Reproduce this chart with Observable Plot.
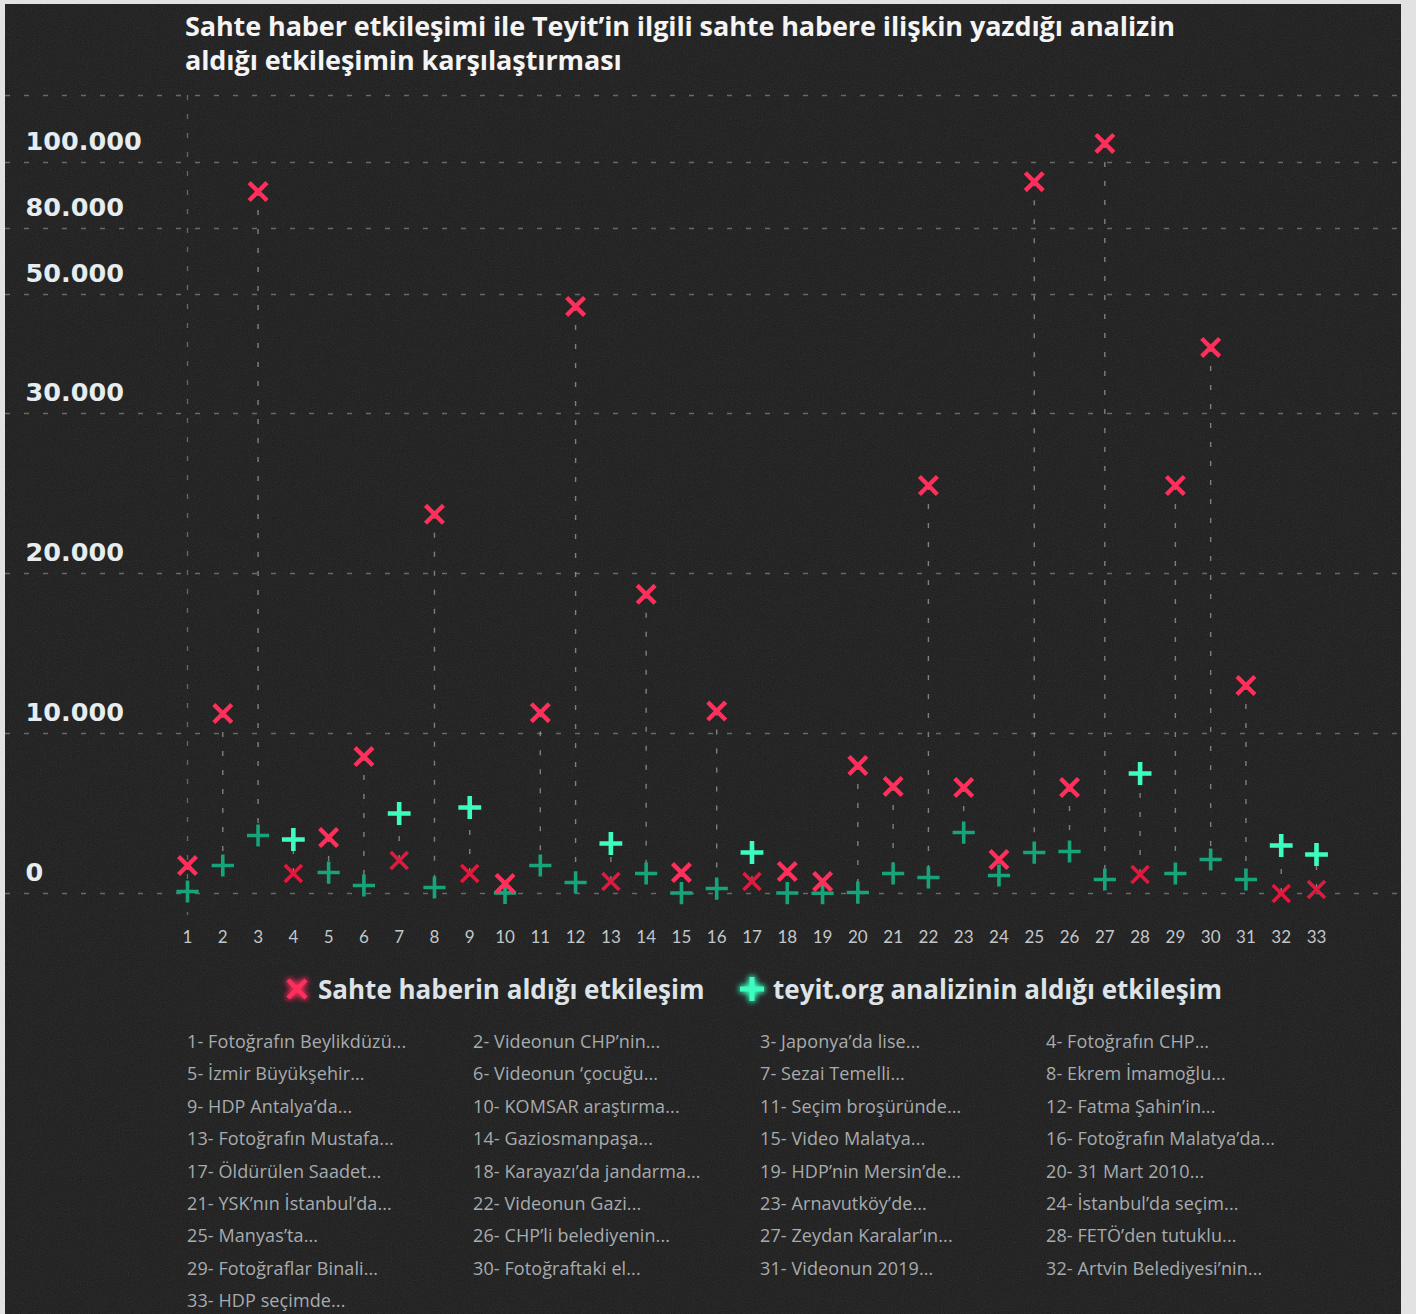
<!DOCTYPE html>
<html><head><meta charset="utf-8">
<script src="https://cdn.jsdelivr.net/npm/d3@7"></script>
<script src="https://cdn.jsdelivr.net/npm/@observablehq/plot@0.6"></script>
<style>
html,body{margin:0;padding:0;}
body{width:1416px;height:1314px;background:#e2e2e2;position:relative;overflow:hidden;font-family:"Open Sans",Lato,sans-serif;}
#card{position:absolute;left:5px;top:4px;width:1396px;height:1310px;background:#1c1c1c;}
#noise{position:absolute;left:5px;top:4px;width:1396px;height:1310px;opacity:0.12;}
#title{position:absolute;left:185px;top:9px;color:#f4f4f4;font-weight:700;font-size:27px;line-height:34px;letter-spacing:-0.1px;}
#chart{position:absolute;left:0;top:80px;}
.leg{position:absolute;top:972px;height:34px;display:flex;align-items:center;color:#dde3e6;font-weight:700;font-size:26px;}
.leg svg{overflow:visible;}
.item{position:absolute;color:#a7abae;font-size:18px;line-height:22px;white-space:nowrap;letter-spacing:0.1px;}
</style>
</head><body>
<div id="card"></div>
<svg id="noise" width="1396" height="1310"><filter id="nz"><feTurbulence type="fractalNoise" baseFrequency="0.9" numOctaves="2" stitchTiles="stitch"/><feColorMatrix type="saturate" values="0"/></filter><rect width="100%" height="100%" filter="url(#nz)"/></svg>
<div id="title">Sahte haber etkileşimi ile Teyit’in ilgili sahte habere ilişkin yazdığı analizin<br>aldığı etkileşimin karşılaştırması</div>
<div id="chart"></div>
<div class="leg" style="left:286px"><svg width="22" height="22" style="margin-right:10px"><path d="M2,2L20,20M20,2L2,20" stroke="#ff2f5c" stroke-width="4.5" filter="url(#glowR)"/></svg><span>Sahte haberin aldığı etkileşim</span></div>
<div class="leg" style="left:738px"><svg width="28" height="28" style="margin-right:7px"><path d="M2,14L26,14M14,2L14,26" stroke="#3dfcc0" stroke-width="5" filter="url(#glowG)"/></svg><span>teyit.org analizinin aldığı etkileşim</span></div>
<div id="list"></div>
<script>
// ---- data ----
const ids = [1,2,3,4,5,6,7,8,9,10,11,12,13,14,15,16,17,18,19,20,21,22,23,24,25,26,27,28,29,30,31,32,33];
const sahte = [1750,11250,91200,1250,3500,8560,2060,23700,1250,625,11300,48000,750,18700,1310,11400,750,1375,750,8000,6690,25500,6625,2125,94200,6625,105700,1190,25500,41100,13000,0,250];
const teyit = [125,1750,3625,3375,1310,500,5000,375,5375,40,1750,690,3125,1250,30,310,2560,30,20,60,1250,1000,3810,1125,2560,2625,875,7500,1250,2125,875,3000,2440];
const yTicks = [0,10000,20000,30000,50000,80000,100000];
const yGrid = [0,10000,20000,30000,50000,80000,100000,120000];
const titles = ["Fotoğrafın Beylikdüzü...","Videonun CHP’nin...","Japonya’da lise...","Fotoğrafın CHP...","İzmir Büyükşehir...","Videonun ‘çocuğu...","Sezai Temelli...","Ekrem İmamoğlu...","HDP Antalya’da...","KOMSAR araştırma...","Seçim broşüründe...","Fatma Şahin’in...","Fotoğrafın Mustafa...","Gaziosmanpaşa...","Video Malatya...","Fotoğrafın Malatya’da...","Öldürülen Saadet...","Karayazı’da jandarma...","HDP’nin Mersin’de...","31 Mart 2010...","YSK’nın İstanbul’da...","Videonun Gazi...","Arnavutköy’de...","İstanbul’da seçim...","Manyas’ta...","CHP’li belediyenin...","Zeydan Karalar’ın...","FETÖ’den tutuklu...","Fotoğraflar Binali...","Fotoğraftaki el...","Videonun 2019...","Artvin Belediyesi’nin...","HDP seçimde..."];

// ---- build table ----
const pairs = ids.map((id,i)=>({id, sahte:sahte[i], teyit:teyit[i]}));
const pts = [];
pairs.forEach(p=>{
  pts.push({id:p.id, series:"sahte", value:p.sahte, bright:p.sahte>=p.teyit});
  pts.push({id:p.id, series:"teyit", value:p.teyit, bright:p.teyit>p.sahte});
});
const fmt = d3.formatLocale({decimal:",",thousands:".",grouping:[3],currency:["","₺"]}).format(",");

// layout (pixels within the svg)
const yPos = [813,653,493,333,214,148,82,15];

const chart = Plot.plot({
  width:1416, height:880,
  marginTop:15, marginBottom:45, marginLeft:5, marginRight:16,
  style:{background:"transparent", overflow:"visible"},
  x:{type:"linear", domain:[1,33], range:[187,1316], axis:null},
  y:{type:"linear", domain:yGrid, range:yPos, axis:null},
  marks:[
    Plot.ruleY(yGrid, {stroke:"#a0a0a0", strokeOpacity:0.55, strokeWidth:1.3, strokeDasharray:"5,14"}),
    Plot.ruleX([1], {stroke:"#a0a0a0", strokeOpacity:0.55, strokeWidth:1.3, strokeDasharray:"5,14"}),
    Plot.ruleX(pairs, {x:"id", y1:"sahte", y2:"teyit", stroke:"#b0b0b0", strokeOpacity:0.65, strokeWidth:1.4, strokeDasharray:"5,14"}),
    Plot.text(yTicks, {y:d=>d, text:d=>fmt(d), frameAnchor:"left", textAnchor:"start", dx:20, dy:-21, fill:"#e6edf0", fontSize:25.5, fontWeight:"bold", fontFamily:"DejaVu Sans"}),
    Plot.text(ids, {x:d=>d, text:d=>String(d), frameAnchor:"bottom", dy:27, fill:"#c3c7c9", fontSize:17, fontFamily:"Lato"}),
    Plot.dot(pts, {filter:d=>d.series==="teyit" && !d.bright, x:"id", y:"value", symbol:"plus", r:7.2, stroke:"#17a47a", strokeWidth:3.6}),
    Plot.dot(pts, {filter:d=>d.series==="sahte" && !d.bright, x:"id", y:"value", symbol:"times", r:7.8, stroke:"#df1a3e", strokeWidth:3.6}),
    Plot.dot(pts, {filter:d=>d.series==="teyit" && d.bright, x:"id", y:"value", symbol:"plus", r:7.4, stroke:"#3dfcc0", strokeWidth:4.6, ariaLabel:"glow-green"}),
    Plot.dot(pts, {filter:d=>d.series==="sahte" && d.bright, x:"id", y:"value", symbol:"times", r:8.2, stroke:"#ff2f5c", strokeWidth:4.4, ariaLabel:"glow-red"})
  ]
});
const ns = "http://www.w3.org/2000/svg";
const defs = document.createElementNS(ns,"defs");
defs.innerHTML = `
<filter id="glowR" x="-100%" y="-100%" width="300%" height="300%"><feGaussianBlur in="SourceGraphic" stdDeviation="3.4" result="b"/><feMerge><feMergeNode in="b"/><feMergeNode in="b"/><feMergeNode in="SourceGraphic"/></feMerge></filter>
<filter id="glowG" x="-100%" y="-100%" width="300%" height="300%"><feGaussianBlur in="SourceGraphic" stdDeviation="3.2" result="b"/><feMerge><feMergeNode in="b"/><feMergeNode in="b"/><feMergeNode in="SourceGraphic"/></feMerge></filter>`;
chart.insertBefore(defs, chart.firstChild);
chart.querySelectorAll('[aria-label="glow-red"] path').forEach(p=>p.setAttribute("filter","url(#glowR)"));
chart.querySelectorAll('[aria-label="glow-green"] path').forEach(p=>p.setAttribute("filter","url(#glowG)"));
document.getElementById("chart").appendChild(chart);

// ---- item list ----
const colX = [187,473,760,1046];
const list = document.getElementById("list");
titles.forEach((t,i)=>{
  const el = document.createElement("div");
  el.className = "item";
  el.style.left = colX[i%4]+"px";
  el.style.top = (1030 + Math.floor(i/4)*32.4)+"px";
  el.textContent = ids[i]+"- "+t;
  list.appendChild(el);
});
</script>
</body></html>
